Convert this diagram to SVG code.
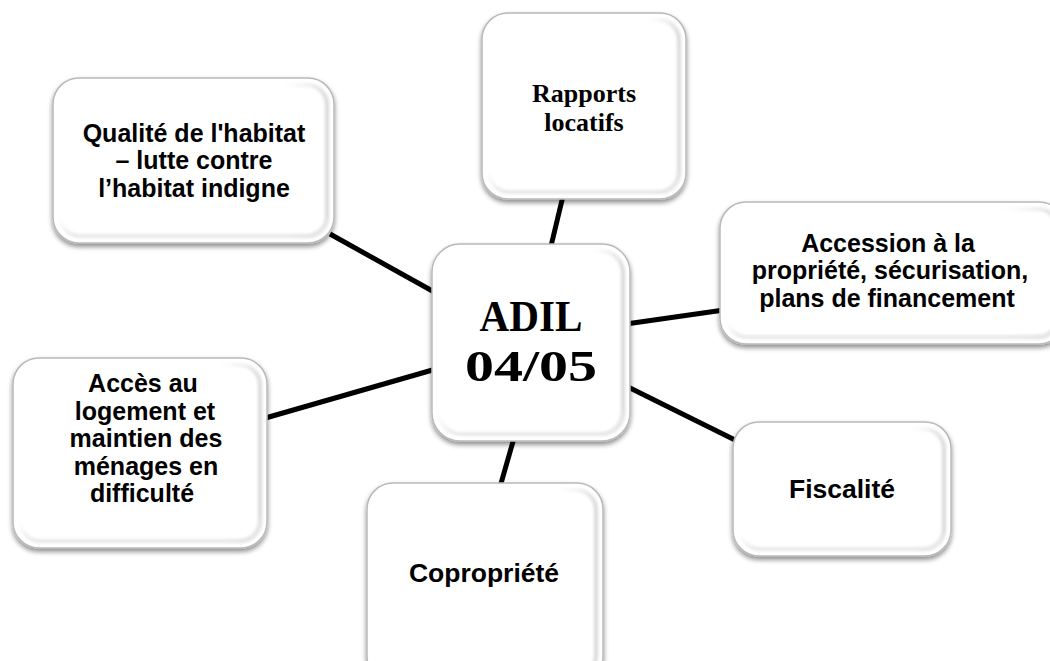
<svg xmlns="http://www.w3.org/2000/svg" width="1050" height="661" viewBox="0 0 1050 661">
<defs>
<filter id="sh" x="-10%" y="-10%" width="120%" height="125%">
<feGaussianBlur in="SourceAlpha" stdDeviation="2.5"/>
<feOffset dx="0" dy="3" result="b"/>
<feComponentTransfer><feFuncA type="linear" slope="0.45"/></feComponentTransfer>
<feMerge><feMergeNode/><feMergeNode in="SourceGraphic"/></feMerge>
</filter>
<filter id="bl"><feGaussianBlur stdDeviation="1.5"/></filter>
<linearGradient id="bev" x1="0" y1="0" x2="1" y2="0">
<stop offset="0" stop-color="#ffffff" stop-opacity="0"/>
<stop offset="0.8" stop-color="#ffffff" stop-opacity="0"/>
<stop offset="1" stop-color="#d9d9d9" stop-opacity="1"/>
</linearGradient>
<linearGradient id="bevv" x1="0" y1="0" x2="0" y2="1">
<stop offset="0" stop-color="#ffffff" stop-opacity="0"/>
<stop offset="0.85" stop-color="#ffffff" stop-opacity="0"/>
<stop offset="1" stop-color="#e2e2e2" stop-opacity="1"/>
</linearGradient>
</defs>
<style>
.box{fill:#ffffff;stroke:#b9b9b9;stroke-width:1.5;filter:url(#sh)}
.bev{fill:none;stroke:url(#bev);stroke-width:4;filter:url(#bl)}
.bevv{fill:none;stroke:url(#bevv);stroke-width:3;filter:url(#bl)}
.t{font-family:"Liberation Sans",Arial,sans-serif;font-weight:bold;font-size:25px;fill:#000;text-anchor:middle}
.t1{font-size:26.5px}
.s{font-family:"Liberation Serif","Times New Roman",serif;font-weight:bold;fill:#000;text-anchor:middle}
.c{stroke:#000;stroke-width:5;fill:none;stroke-linecap:butt}
</style>
<rect width="1050" height="661" fill="#ffffff"/>
<g id="connectors">
<line class="c" x1="551" y1="246" x2="563" y2="196"/>
<line class="c" x1="330" y1="234" x2="436" y2="293"/>
<line class="c" x1="626" y1="324" x2="724" y2="310"/>
<line class="c" x1="262" y1="419" x2="436" y2="369"/>
<line class="c" x1="626" y1="386" x2="737" y2="441"/>
<line class="c" x1="514" y1="438" x2="500" y2="487"/>
</g>
<g id="node-qualite">
<rect class="box" x="53" y="78" width="281" height="165" rx="26"/>
<rect class="bev" x="60" y="85" width="267" height="151" rx="20"/>
<rect class="bevv" x="60" y="85" width="267" height="151" rx="20"/>
<text class="t" x="194" y="141.5">Qualité de l'habitat<tspan x="194" dy="27.5">– lutte contre</tspan><tspan x="194" dy="27.5">l’habitat indigne</tspan></text>
</g>
<g id="node-rapports">
<rect class="box" x="482" y="13" width="204" height="186" rx="26"/>
<rect class="bev" x="489" y="20" width="190" height="172" rx="20"/>
<rect class="bevv" x="489" y="20" width="190" height="172" rx="20"/>
<text class="s" font-size="26" x="584" y="102">Rapports<tspan x="584" dy="29">locatifs</tspan></text>
</g>
<g id="node-accession">
<rect class="box" x="720" y="202" width="345" height="142" rx="26"/>
<rect class="bev" x="727" y="209" width="331" height="128" rx="20"/>
<rect class="bevv" x="727" y="209" width="331" height="128" rx="20"/>
<text class="t" x="888" y="251.5">Accession à la<tspan x="890" dy="27.5">propriété, sécurisation,</tspan><tspan x="887" dy="27.5">plans de financement</tspan></text>
</g>
<g id="node-acces">
<rect class="box" x="13" y="358" width="254" height="190" rx="26"/>
<rect class="bev" x="20" y="365" width="240" height="176" rx="20"/>
<rect class="bevv" x="20" y="365" width="240" height="176" rx="20"/>
<text class="t" x="143" y="392">Accès au<tspan x="145" dy="27.5">logement et</tspan><tspan x="146" dy="27.5">maintien des</tspan><tspan x="146" dy="27.5">ménages en</tspan><tspan x="142" dy="27.5">difficulté</tspan></text>
</g>
<g id="node-fiscalite">
<rect class="box" x="733" y="422" width="218" height="134" rx="26"/>
<rect class="bev" x="740" y="429" width="204" height="120" rx="20"/>
<rect class="bevv" x="740" y="429" width="204" height="120" rx="20"/>
<text class="t t1" x="842" y="498">Fiscalité</text>
</g>
<g id="node-copropriete">
<rect class="box" x="367" y="483" width="236" height="200" rx="26"/>
<rect class="bev" x="374" y="490" width="222" height="186" rx="20"/>
<text class="t t1" x="484" y="582">Copropriété</text>
</g>
<g id="node-adil">
<rect class="box" x="432" y="244" width="198" height="197" rx="28"/>
<rect class="bev" x="439" y="251" width="184" height="183" rx="22"/>
<rect class="bevv" x="439" y="251" width="184" height="183" rx="22"/>
<text class="s" font-size="45" x="531" y="331" textLength="103" lengthAdjust="spacingAndGlyphs">ADIL</text>
<text class="s" font-size="45" x="531" y="381" textLength="132" lengthAdjust="spacingAndGlyphs">04/05</text>
</g>
</svg>
